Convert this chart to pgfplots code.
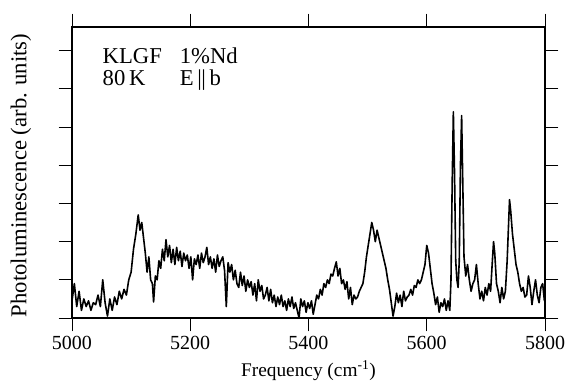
\documentclass[border=0pt]{standalone}
\usepackage{pgfplots}
\pgfplotsset{compat=1.18}
\usepackage{fontspec}
\setmainfont{Liberation Serif}
\pgfplotstableread{
f v
5000 0.45
5004 0.9
5008 0.3
5012 0.7
5016 0.2
5020 0.5
5024 0.3
5028 0.45
5032 0.2
5036 0.4
5040 0.35
5044 0.6
5048 0.3
5052 1.0
5056 0.4
5060 0.05
5064 0.5
5068 0.2
5072 0.55
5076 0.35
5080 0.7
5084 0.5
5088 0.75
5092 0.6
5096 1.0
5100 1.2
5104 1.8
5108 2.2
5112 2.7
5115 2.3
5118 2.5
5121 2.1
5124 1.7
5127 1.2
5130 1.6
5133 1.0
5136 0.9
5138 0.42
5141 1.1
5144 1.0
5147 1.5
5150 1.3
5153 1.8
5156 1.5
5159 2.05
5162 1.6
5165 1.9
5168 1.45
5171 1.8
5174 1.4
5177 1.85
5180 1.5
5183 1.75
5186 1.35
5189 1.7
5192 1.5
5195 1.65
5198 1.3
5201 1.6
5204 1.0
5207 1.55
5210 1.4
5213 1.65
5216 1.3
5219 1.7
5222 1.45
5225 1.6
5228 1.85
5231 1.4
5234 1.6
5237 1.3
5240 1.55
5243 1.2
5246 1.65
5249 1.35
5252 1.5
5255 1.6
5258 1.25
5261 0.3
5264 1.45
5267 1.2
5270 1.4
5273 1.0
5276 1.25
5279 0.9
5282 0.8
5285 1.2
5288 0.85
5291 1.1
5294 0.7
5297 1.0
5300 0.8
5303 0.95
5306 0.6
5309 0.9
5312 0.45
5315 1.0
5318 0.7
5321 0.85
5324 0.5
5327 0.6
5330 0.8
5333 0.45
5336 0.75
5339 0.4
5342 0.6
5345 0.3
5348 0.55
5351 0.35
5354 0.6
5357 0.3
5360 0.45
5363 0.2
5366 0.5
5369 0.3
5372 0.55
5375 0.25
5378 0.4
5381 0.2
5384 0.0
5387 0.5
5390 0.3
5393 0.45
5396 0.15
5399 0.4
5402 0.25
5405 0.45
5408 0.1
5411 0.35
5414 0.6
5417 0.5
5420 0.75
5423 0.6
5426 0.9
5429 0.8
5432 1.0
5435 0.9
5438 1.15
5441 1.1
5444 1.3
5447 1.47
5450 1.1
5453 1.3
5456 0.9
5459 1.0
5462 0.75
5465 0.95
5468 0.5
5471 0.8
5474 0.35
5477 0.6
5480 0.5
5483 0.55
5486 0.7
5489 0.8
5492 0.9
5495 1.2
5498 1.6
5501 1.9
5504 2.2
5507 2.5
5510 2.3
5513 2.0
5516 2.3
5519 2.1
5522 1.9
5525 1.7
5528 1.5
5531 1.3
5534 1.0
5537 0.75
5540 0.4
5543 0.05
5546 0.3
5549 0.65
5552 0.4
5555 0.6
5558 0.3
5561 0.7
5564 0.45
5567 0.55
5570 0.6
5573 0.75
5576 0.6
5579 0.85
5582 0.8
5585 1.0
5588 0.9
5591 1.0
5594 1.2
5597 1.4
5600 1.9
5603 1.7
5606 1.3
5609 0.9
5612 0.65
5615 0.35
5618 0.55
5621 0.15
5624 0.4
5627 0.3
5630 0.5
5633 0.2
5636 0.45
5639 0.2
5641 1.0
5643 3.5
5645 5.4
5647 3.8
5649 1.5
5651 1.0
5653 0.8
5655 1.5
5657 4.0
5659 5.3
5661 3.5
5663 1.6
5666 1.1
5669 1.4
5672 1.0
5675 0.7
5678 0.9
5681 1.0
5684 1.4
5687 0.9
5690 0.5
5693 0.7
5696 0.45
5699 0.8
5702 0.6
5705 0.9
5708 0.7
5711 1.5
5713 2.0
5715 1.7
5718 0.9
5721 0.7
5724 0.4
5727 0.8
5730 0.5
5733 0.7
5736 1.5
5738 2.3
5740 3.1
5742 2.8
5745 2.2
5748 1.8
5751 1.4
5754 1.2
5757 0.9
5760 0.7
5763 0.8
5766 0.55
5769 0.6
5772 1.1
5775 0.8
5778 0.35
5781 0.7
5784 1.0
5787 0.6
5790 0.4
5793 0.8
5796 0.9
5799 0.45
5800 0.7
}\spectrum
\begin{document}
\begin{tikzpicture}
\begin{axis}[
  scale only axis,
  width=354.75pt, height=218.25pt,
  xmin=5000, xmax=5800, ymin=0, ymax=7.62,
  xtick={5000,5200,...,5800},
  ytick={0,1,...,7}, yticklabels={},
  tick align=outside,
  major tick length=10pt,
  xtick pos=both, ytick pos=both,
  xticklabel pos=left,
  axis line style={line width=0.8pt},
  every tick/.style={black, line width=0.7pt},
  /pgf/number format/assume math mode=true,
  /pgf/number format/1000 sep={},
  xticklabel style={font=\fontsize{15}{17}\selectfont},
  xlabel={Frequency (cm\textsuperscript{-1})},
  ylabel={Photoluminescence (arb. units)},
  xlabel style={font=\fontsize{14.5}{17}\selectfont, at={(axis description cs:0.5,-0.18)}, anchor=center},
  ylabel style={font=\fontsize{17}{19}\selectfont, at={(axis description cs:-0.108,0.49)}, anchor=center},
]
\addplot[black, line width=1.2pt, line join=round] table[x=f, y=v] {\spectrum};
\node[anchor=base west, font=\fontsize{17}{19}\selectfont] at (axis description cs:0.055,0.875) {KLGF};
\node[anchor=base west, font=\fontsize{17}{19}\selectfont] at (axis description cs:0.218,0.875) {1\%Nd};
\node[anchor=base west, font=\fontsize{17}{19}\selectfont] at (axis description cs:0.055,0.80) {80\,K};
\node[anchor=base west, font=\fontsize{17}{19}\selectfont] at (axis description cs:0.218,0.80) {E\,|\kern-0.5pt|\,b};
\end{axis}
\pgfresetboundingbox
\path ([shift={(-54pt,-49.5pt)}]current axis.south west) rectangle ([shift={(15pt,20.25pt)}]current axis.north east);
\end{tikzpicture}
\end{document}
